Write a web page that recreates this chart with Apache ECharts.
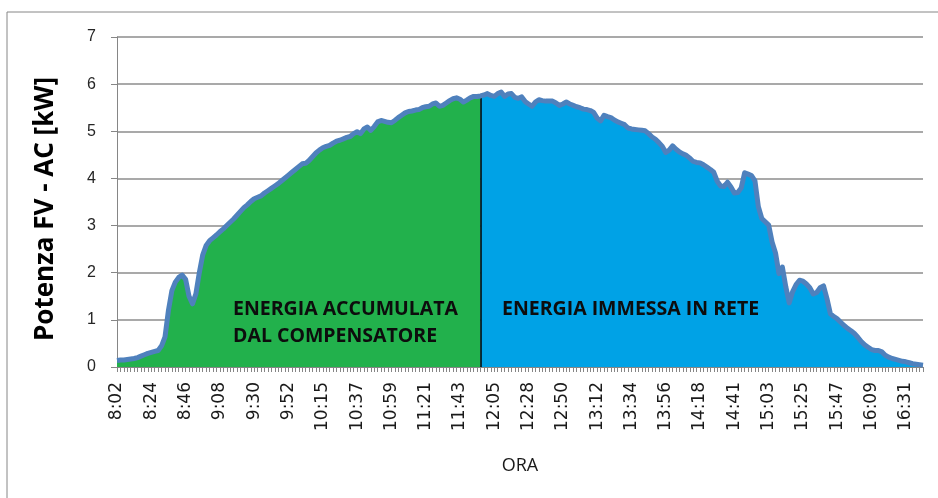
<!DOCTYPE html>
<html>
<head>
<meta charset="utf-8">
<script src="https://cdn.jsdelivr.net/npm/echarts@6/dist/echarts.min.js"></script>
<style>
  html, body { margin: 0; padding: 0; background: #fff; }
  #main { width: 938px; height: 498px; }
</style>
</head>
<body>
<div id="main"></div>
<script>
// etichette dell'asse orizzontale (una ogni 10 campioni)
const tickLabels = ['8:02', '8:24', '8:46', '9:08', '9:30', '9:52', '10:15', '10:37', '10:59', '11:21', '11:43', '12:05',
  '12:28', '12:50', '13:12', '13:34', '13:56', '14:18', '14:41', '15:03', '15:25', '15:47', '16:09', '16:31'];
const labelStep = 10;

// potenza FV-AC [kW], mattina fino alla linea di separazione
const energiaAccumulata = [
  0.14, 0.15, 0.15, 0.16, 0.17, 0.18, 0.20, 0.23, 0.26, 0.29,
  0.31, 0.33, 0.35, 0.45, 0.64, 1.20, 1.62, 1.80, 1.90, 1.95,
  1.86, 1.50, 1.34, 1.55, 2.00, 2.38, 2.58, 2.68, 2.74, 2.80,
  2.87, 2.93, 3.00, 3.07, 3.14, 3.22, 3.30, 3.38, 3.44, 3.51,
  3.57, 3.60, 3.63, 3.69, 3.74, 3.79, 3.84, 3.89, 3.95, 4.01,
  4.07, 4.13, 4.19, 4.25, 4.31, 4.32, 4.38, 4.46, 4.54, 4.60,
  4.65, 4.68, 4.70, 4.75, 4.79, 4.81, 4.84, 4.87, 4.89, 4.95,
  4.99, 4.95, 5.05, 5.09, 5.02, 5.10, 5.20, 5.23, 5.21, 5.19,
  5.18, 5.23, 5.29, 5.34, 5.39, 5.42, 5.43, 5.45, 5.46, 5.50,
  5.52, 5.53, 5.58, 5.60, 5.53, 5.55, 5.60, 5.65, 5.69, 5.71,
  5.68, 5.62, 5.66, 5.71, 5.74, 5.74, 5.75
];
// dalla linea di separazione in poi (il primo valore coincide con l'ultimo sopra)
const energiaImmessa = [
  5.75, 5.77, 5.80, 5.76, 5.74, 5.80, 5.83, 5.74, 5.79, 5.80,
  5.72, 5.70, 5.73, 5.63, 5.58, 5.53, 5.62, 5.67, 5.65, 5.64,
  5.64, 5.64, 5.60, 5.55, 5.58, 5.62, 5.58, 5.55, 5.52, 5.50,
  5.47, 5.46, 5.44, 5.40, 5.28, 5.22, 5.34, 5.31, 5.29, 5.24,
  5.20, 5.17, 5.14, 5.07, 5.05, 5.04, 5.03, 5.02, 5.01, 4.95,
  4.88, 4.83, 4.76, 4.68, 4.55, 4.60, 4.69, 4.62, 4.56, 4.52,
  4.49, 4.43, 4.36, 4.34, 4.33, 4.29, 4.24, 4.19, 4.13, 3.94,
  3.84, 3.83, 3.92, 3.82, 3.69, 3.70, 3.80, 4.12, 4.09, 4.06,
  3.95, 3.40, 3.15, 3.08, 3.01, 2.65, 2.42, 1.98, 2.12, 1.70,
  1.36, 1.60, 1.75, 1.84, 1.82, 1.76, 1.68, 1.55, 1.58, 1.68,
  1.72, 1.45, 1.13, 1.07, 1.02, 0.95, 0.88, 0.82, 0.77, 0.71,
  0.63, 0.54, 0.47, 0.42, 0.37, 0.35, 0.35, 0.32, 0.25, 0.21,
  0.18, 0.16, 0.14, 0.12, 0.11, 0.09, 0.07, 0.06, 0.05, 0.04
];

const splitIndex = energiaAccumulata.length - 1;
const power = energiaAccumulata.concat(energiaImmessa.slice(1));
const categories = power.map((v, i) => String(i));
const greenData = power.map((v, i) => (i <= splitIndex ? v : null));
const blueData = power.map((v, i) => (i >= splitIndex ? v : null));

const chart = echarts.init(document.getElementById('main'));

const option = {
  animation: false,
  backgroundColor: '#fff',
  grid: { left: 117, right: 15, top: 37, bottom: 131 },
  xAxis: {
    type: 'category',
    data: categories,
    boundaryGap: false,
    name: 'ORA',
    nameLocation: 'middle',
    nameGap: 90,
    nameTextStyle: { fontFamily: 'Open Sans', fontSize: 18, color: '#1a1a1a' },
    axisLine: { lineStyle: { color: '#868686', width: 1 } },
    axisTick: { interval: 0, length: 5, lineStyle: { color: '#868686' } },
    axisLabel: {
      interval: labelStep - 1,
      rotate: 90,
      margin: 15,
      fontFamily: 'DejaVu Sans',
      fontSize: 17,
      color: '#1a1a1a',
      formatter: (val, idx) => tickLabels[idx / labelStep] || ''
    }
  },
  yAxis: {
    type: 'value',
    min: 0,
    max: 7,
    interval: 1,
    axisLine: { show: true, lineStyle: { color: '#868686', width: 1 } },
    axisTick: { show: true, length: 6, lineStyle: { color: '#868686' } },
    axisLabel: { margin: 21, fontFamily: 'Liberation Sans', fontSize: 16, color: '#262626' },
    splitLine: { lineStyle: { color: '#8c8c8c', width: 1.5 } }
  },
  series: [
    {
      name: 'ENERGIA ACCUMULATA DAL COMPENSATORE',
      type: 'line',
      data: greenData,
      symbol: 'none',
      z: 1,
      lineStyle: { width: 0 },
      areaStyle: { color: '#22b14c', opacity: 1 }
    },
    {
      name: 'ENERGIA IMMESSA IN RETE',
      type: 'line',
      data: blueData,
      symbol: 'none',
      z: 1,
      lineStyle: { width: 0 },
      areaStyle: { color: '#00a2e6', opacity: 1 }
    },
    {
      name: 'Potenza FV - AC',
      type: 'line',
      data: power,
      symbol: 'none',
      z: 5,
      lineStyle: { color: '#4f81bd', width: 5, join: 'round' },
      markLine: {
        silent: true,
        symbol: 'none',
        label: { show: false },
        lineStyle: { color: '#000', width: 1.5, type: 'solid' },
        data: [[{ coord: [splitIndex, 0] }, { coord: [splitIndex, power[splitIndex]] }]]
      }
    }
  ],
  graphic: [
    {
      type: 'rect',
      shape: { x: 7, y: 12, width: 1000, height: 1000 },
      style: { fill: 'none', stroke: '#868686', lineWidth: 1 },
      silent: true
    },
    {
      type: 'text',
      x: 46, y: 209,
      rotation: Math.PI / 2,
      style: {
        text: 'Potenza FV - AC [kW]',
        fontFamily: 'Open Sans', fontWeight: 'bold', fontSize: 26,
        fill: '#000', align: 'center', verticalAlign: 'middle'
      }
    },
    {
      type: 'text',
      left: 233, top: 296,
      z: 10,
      style: {
        text: 'ENERGIA ACCUMULATA\nDAL COMPENSATORE',
        fontFamily: 'Open Sans', fontWeight: 'bold', fontSize: 19.5, lineHeight: 27,
        fill: '#0d0d0d'
      }
    },
    {
      type: 'text',
      left: 502, top: 296,
      z: 10,
      style: {
        text: 'ENERGIA IMMESSA IN RETE',
        fontFamily: 'Open Sans', fontWeight: 'bold', fontSize: 19.5, lineHeight: 27,
        fill: '#0d0d0d'
      }
    }
  ]
};

chart.setOption(option);
</script>
</body>
</html>
